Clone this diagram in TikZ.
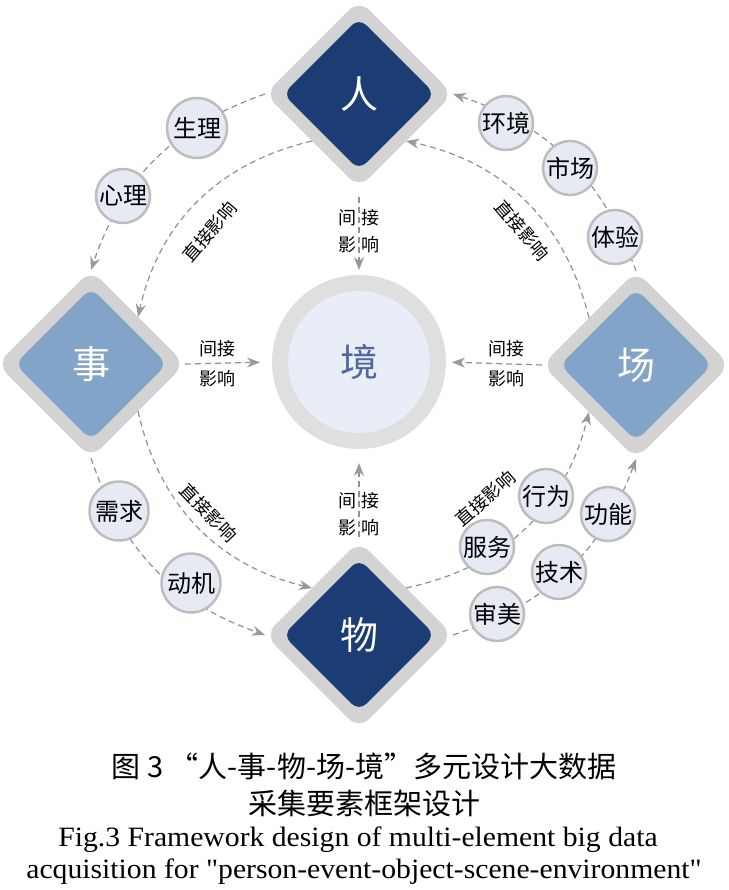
\documentclass[tikz,border=0pt]{standalone}
\usepackage{fontspec}
\setmainfont{Liberation Serif}
\newfontfamily\cjk{Noto Sans CJK SC}
\newfontfamily\capfont[FakeStretch=1.06]{Liberation Serif}
\usetikzlibrary{shapes.geometric,arrows.meta}

\definecolor{dunkelblau}{HTML}{1C3D73}
\definecolor{hellblau}{HTML}{82A4C8}
\definecolor{randgrau}{HTML}{D3D3D3}
\definecolor{kreisgrau}{HTML}{DFDFDF}
\definecolor{kreisfuell}{HTML}{E8EDF8}
\definecolor{kleinfuell}{HTML}{E6EAF3}
\definecolor{kleinrand}{HTML}{BDBDBD}
\definecolor{strich}{HTML}{8A90A6}
\definecolor{spitze}{HTML}{999999}
\definecolor{jingblau}{HTML}{5068A0}

\begin{document}
\begin{tikzpicture}[x=1pt, y=-1pt,
  ringraute/.style={diamond, aspect=1, minimum size=188pt, inner sep=0pt, outer sep=0pt,
    fill=randgrau, rounded corners=14pt},
  kernraute/.style={diamond, aspect=1, minimum size=152pt, inner sep=0pt, outer sep=0pt,
    rounded corners=10pt, text=white, font=\cjk\fontsize{38}{38}\selectfont},
  kreislein/.style={circle, minimum size=54pt, inner sep=0pt, fill=kleinfuell,
    draw=kleinrand, line width=2.5pt, font=\cjk\fontsize{24}{24}\selectfont},
  pfeil/.style={draw=strich, line width=1.2pt, dash pattern=on 6pt off 4pt,
    -{Stealth[length=13pt, width=10pt, color=spitze]}},
  lbl/.style={font=\cjk\fontsize{18}{27}\selectfont, align=center, inner sep=2pt},
  schraeg/.style={font=\cjk\fontsize{18}{18}\selectfont, sloped}
]
  \useasboundingbox (0,0) rectangle (728,890);

  % Vier Rauten: Ring und Kern
  \node[ringraute] (renbg)   at (359,94)  {};
  \node[ringraute] (shibg)   at (91,364)  {};
  \node[ringraute] (changbg) at (636,365) {};
  \node[ringraute] (wubg)    at (359,635) {};
  \node[kernraute, fill=dunkelblau] (ren)   at (renbg)   {人};
  \node[kernraute, fill=hellblau]   (shi)   at (shibg)   {事};
  \node[kernraute, fill=hellblau]   (chang) at (changbg) {场};
  \node[kernraute, fill=dunkelblau] (wu)    at (wubg)    {物};

  % Zentrum
  \node[circle, minimum size=158pt, inner sep=0pt, fill=kreisfuell, draw=kreisgrau,
    line width=16pt, text=jingblau, font=\cjk\fontsize{38}{38}\selectfont]
    (jing) at (359,362) {境};

  % Innerer Kreis: direkte Einfluesse
  \draw[pfeil] (renbg.-135) to[bend right=32]
    node[pos=0.56, schraeg, below, inner sep=20pt] {直接影响} (shibg.45);
  \draw[pfeil] (shibg.-45) to[bend right=32]
    node[pos=0.49, schraeg, above, inner sep=9pt] {直接影响} (wubg.135);
  \draw[pfeil] (wubg.45) to[bend right=32]
    node[pos=0.46, schraeg, above, inner sep=40pt] {直接影响} (changbg.-135);
  \draw[pfeil] (changbg.135) to[bend right=32]
    node[pos=0.42, schraeg, below, inner sep=13pt] {直接影响} (renbg.-45);

  % Aeusserer Kreis
  \draw[pfeil] (renbg.west) to[bend right=26] (shibg.north);
  \draw[pfeil] (shibg.south) to[bend right=26] (wubg.west);
  \draw[pfeil] (wubg.east) to[bend right=26] (changbg.south);
  \draw[pfeil] (changbg.north) to[bend right=26] (renbg.east);

  % Indirekte Einfluesse auf das Zentrum
  \draw[pfeil, shorten <=9pt, shorten >=5pt] (renbg.south) --
    node[lbl, left] {间\\影} node[lbl, right] {接\\响} (jing.north);
  \draw[pfeil, shorten <=4pt, shorten >=14pt] (wubg.north) --
    node[pos=0.29, lbl, left] {间\\影} node[pos=0.29, lbl, right] {接\\响} (jing.south);
  \draw[pfeil, shorten >=12pt] (shibg.east) --
    node[pos=0.37, lbl, above, inner sep=6pt] {间接} node[pos=0.37, lbl, below, inner sep=6pt] {影响} (jing.west);
  \draw[pfeil, shorten >=6pt] (changbg.west) --
    node[pos=0.37, lbl, above, inner sep=6pt] {间接} node[pos=0.37, lbl, below, inner sep=6pt] {影响} (jing.east);

  % Kleine Kreise auf den Boegen
  \node[kreislein, minimum size=60pt] (shengli) at (197,128) {生理};
  \node[kreislein] (xinli)    at (123,196) {心理};
  \node[kreislein] (huanjing) at (506,123) {环境};
  \node[kreislein] (shichang) at (570,168) {市场};
  \node[kreislein] (tiyan)    at (615,237) {体验};
  \node[kreislein, minimum size=59pt] (xuqiu)  at (119,511) {需求};
  \node[kreislein, minimum size=59pt] (dongji) at (191,583) {动机};
  \node[kreislein] (fuwu)     at (487,547) {服务};
  \node[kreislein] (xingwei)  at (546,496) {行为};
  \node[kreislein] (shenmei)  at (497,614) {审美};
  \node[kreislein] (jishu)    at (559,572) {技术};
  \node[kreislein] (gongneng) at (608,514) {功能};

  % Bildunterschrift
  \node[font=\cjk\fontsize{29}{29}\selectfont] (cap1) at (364,766)
    {图 3 “人-事-物-场-境”多元设计大数据};
  \node[font=\cjk\fontsize{29}{29}\selectfont] (cap2) at (364,803) {采集要素框架设计};
  \node[font=\capfont\fontsize{28}{28}\selectfont] (cap3) at (358,840)
    {Fig.3 Framework design of multi-element big data};
  \node[font=\capfont\fontsize{28}{28}\selectfont] (cap4) at (364,872)
    {acquisition for "person-event-object-scene-environment"};
\end{tikzpicture}
\end{document}
